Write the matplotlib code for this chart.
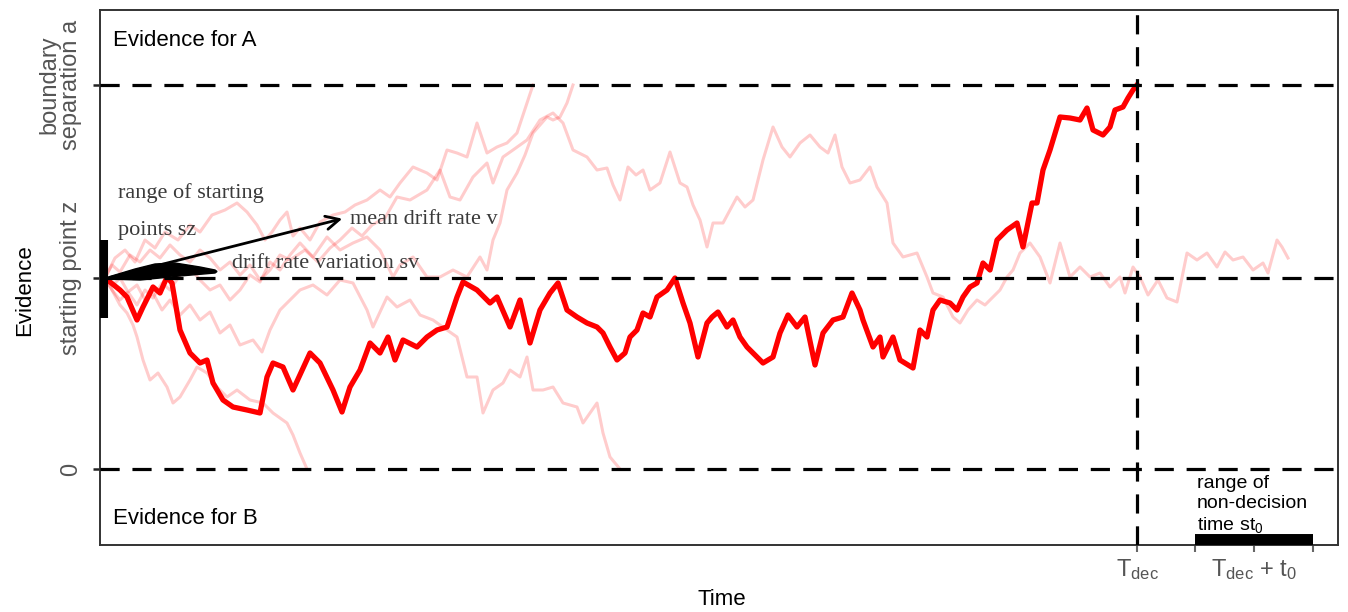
import numpy as np
import matplotlib
matplotlib.use('Agg')
from matplotlib import pyplot as plt

plt.rcParams['font.family'] = 'Liberation Sans'
plt.rcParams['mathtext.fontset'] = 'custom'
plt.rcParams['mathtext.rm'] = 'Liberation Sans'
plt.rcParams['mathtext.it'] = 'Liberation Sans:italic'
plt.rcParams['mathtext.default'] = 'regular'

# parametros del modelo de difusion (unidades arbitrarias)
a = 384          # separacion de barreras
z = 191          # punto de partida
T_dec = 1037     # tiempo de decision
t0_lo, t0_hi = 1095, 1213
t0_mid = 1154
sz_lo, sz_hi = 151, 229

# camino resaltado (llega a la barrera superior en T_dec)
main_t = [5, 20, 27, 37, 43, 53, 60, 67, 72, 80, 90, 100, 107, 113, 123, 133, 147, 160,
          167, 173, 183, 193, 210, 220, 233, 242, 250, 260, 270, 280, 288, 295, 303, 317,
          327, 337, 347, 357, 363, 377, 390, 397, 410, 420, 430, 440, 450, 458, 467, 477,
          487, 497, 503, 510, 517, 525, 530, 537, 543, 550, 557, 567, 575, 583, 590, 598,
          607, 612, 618, 627, 633, 640, 647, 657, 663, 673, 680, 688, 697, 705, 715, 723,
          733, 743, 752, 760, 763, 773, 780, 783, 793, 800, 813, 820, 827, 833, 840, 850,
          857, 863, 870, 877, 883, 890, 897, 907, 917, 923, 932, 937, 943, 950, 960, 970,
          980, 987, 993, 1003, 1010, 1015, 1023, 1028, 1033, 1037]
main_e = [191, 179, 172, 149, 162, 182, 176, 192, 186, 139, 116, 106, 109, 86, 69, 62, 59, 56,
          92, 106, 102, 79, 116, 106, 79, 57, 82, 99, 126, 116, 132, 109, 129, 122,
          132, 139, 142, 172, 187, 179, 166, 172, 142, 169, 126, 159, 176, 186, 159, 152,
          146, 142, 136, 122, 109, 116, 132, 139, 156, 152, 172, 179, 191, 166, 146, 112,
          146, 152, 157, 142, 149, 132, 122, 112, 106, 112, 136, 154, 142, 152, 104, 136,
          149, 152, 176, 159, 149, 122, 132, 112, 132, 109, 101, 139, 132, 159, 169, 166,
          159, 172, 182, 186, 206, 199, 229, 239, 246, 222, 266, 266, 299, 319, 352, 351,
          349, 361, 339, 334, 342, 359, 362, 371, 379, 384]

# caminos de fondo
p1_t = [5, 15, 25, 35, 45, 55, 65, 78, 90, 100, 112, 125, 137, 147, 157, 165, 172, 180,
        187, 193, 200, 210, 220, 233, 245, 255, 267, 280, 290, 300, 313, 327, 337, 347,
        357, 367, 377, 387, 397, 407, 417, 427, 433]
p1_e = [191, 211, 219, 207, 229, 221, 237, 229, 244, 237, 254, 259, 266, 257, 244, 229, 237, 249,
        257, 233, 241, 229, 247, 254, 257, 264, 269, 279, 272, 286, 302, 296, 289, 319,
        316, 312, 346, 316, 322, 326, 336, 366, 384]

p2_t = [5, 12, 20, 28, 37, 45, 53, 62, 70, 80, 90, 100, 110, 120, 130, 140, 150, 160,
        170, 180, 190, 200, 213, 227, 240, 253, 267, 280, 293, 300, 313, 327, 340, 353,
        367, 380, 387, 393, 400, 407, 417, 425, 433, 440, 447, 453, 460, 467, 473]
p2_e = [191, 179, 169, 177, 164, 179, 171, 186, 179, 194, 201, 189, 179, 184, 169, 179, 194, 187,
        207, 199, 214, 226, 212, 232, 219, 226, 232, 219, 192, 204, 212, 192, 192, 199,
        192, 212, 199, 229, 246, 279, 296, 314, 336, 344, 352, 349, 352, 366, 384]

p3_t = [5, 12, 20, 30, 40, 50, 60, 70, 80, 90, 100, 110, 120, 130, 140, 150, 160, 170,
        180, 190, 205, 218, 230, 240, 252, 262, 272, 285, 297, 310, 327, 340, 350, 360,
        373, 387, 393, 403, 413, 427, 440, 453, 463, 473, 487, 497, 507, 513, 520, 528,
        536, 543, 550, 560, 570, 580, 587, 593, 600, 607, 613, 623, 630, 637, 645, 653,
        663, 673, 682, 690, 700, 710, 720, 728, 735, 742, 750, 760, 770, 777, 787, 793,
        803, 817, 827, 833, 843, 853, 860, 868, 877, 885, 893, 900, 907, 913, 920, 930,
        940, 950, 960, 970, 980, 990, 1000, 1010, 1020, 1025, 1033, 1040, 1048, 1058, 1067, 1077,
        1087, 1097, 1107, 1117, 1125, 1133, 1143, 1153, 1163, 1168, 1177, 1182, 1188]
p3_e = [191, 204, 197, 214, 207, 219, 211, 224, 214, 207, 219, 211, 199, 207, 194, 204, 189, 199,
        214, 209, 219, 207, 221, 229, 241, 233, 244, 251, 272, 269, 279, 299, 272, 269,
        292, 306, 286, 312, 319, 329, 349, 356, 346, 319, 312, 299, 301, 284, 269, 302,
        294, 299, 279, 286, 317, 286, 282, 264, 249, 222, 246, 246, 259, 272, 262, 269,
        309, 342, 322, 312, 326, 334, 322, 316, 334, 302, 286, 289, 302, 282, 266, 226,
        212, 216, 192, 176, 172, 152, 146, 159, 169, 164, 172, 179, 192, 199, 216, 226,
        212, 186, 226, 192, 202, 192, 196, 182, 192, 176, 202, 192, 174, 189, 171, 167,
        216, 209, 216, 202, 217, 209, 212, 199, 206, 196, 229, 222, 211]

p4_t = [5, 12, 20, 27, 33, 37, 43, 50, 58, 67, 73, 80, 90, 97, 107, 117, 127, 137,
        150, 163, 173, 180, 187, 193, 200, 207]
p4_e = [191, 179, 164, 156, 144, 132, 109, 89, 96, 82, 66, 72, 89, 102, 96, 82, 72, 79,
        69, 66, 56, 51, 46, 34, 16, 0]

p5_t = [5, 13, 20, 28, 37, 45, 53, 62, 70, 80, 90, 100, 110, 120, 130, 140, 153, 162,
        170, 180, 190, 200, 213, 227, 240, 253, 267, 273, 287, 297, 310, 320, 333, 347,
        357, 367, 377, 383, 393, 403, 410, 420, 427, 433, 443, 453, 463, 477, 483, 497,
        503, 510, 520]
p5_e = [191, 184, 191, 177, 184, 169, 176, 159, 169, 154, 164, 149, 157, 136, 144, 124, 129, 117,
        139, 159, 169, 179, 184, 174, 189, 186, 159, 142, 172, 162, 169, 154, 149, 139,
        132, 92, 92, 56, 79, 86, 99, 92, 112, 79, 79, 82, 66, 62, 46, 66,
        36, 12, 0]

# cuna de variabilidad del drift y flecha del drift medio
wedge_t = [5, 35, 55, 75, 100, 115, 117, 115, 80, 40, 5]
wedge_e = [191, 200, 205, 206, 202, 199, 197.5, 196, 193, 189, 190]
arrow_end = (245, 251)

fig = plt.figure(figsize=(13.48, 6.12), dpi=100)
ax = fig.add_axes([100 / 1348, 1 - 545 / 612, 1238 / 1348, 535 / 612])

light = dict(color='red', alpha=0.2, lw=2.2, zorder=1)
for tt, ee in [(p1_t, p1_e), (p2_t, p2_e), (p3_t, p3_e), (p4_t, p4_e), (p5_t, p5_e)]:
    ax.plot(tt, ee, **light)
ax.plot(main_t, main_e, color='red', lw=3.8, zorder=3, solid_joinstyle='round')

dash = dict(color='black', lw=2.3, linestyle=(0, (6, 4)), zorder=4)
for yy in [0, z, a]:
    ax.axhline(yy, **dash)
ax.axvline(T_dec, **dash)

# rango de puntos de partida
ax.plot([4, 4], [sz_lo, sz_hi], color='black', lw=5.8, solid_capstyle='butt', zorder=5)
# rango del tiempo no decisional
ax.plot([t0_lo, t0_hi], [-70.5, -70.5], color='black', lw=8.6, solid_capstyle='butt', zorder=5)

ax.fill(wedge_t, wedge_e, color='black', zorder=5)
ax.annotate('', xy=arrow_end, xytext=(8, 191),
            arrowprops=dict(arrowstyle='->', lw=2, color='black', mutation_scale=24), zorder=6)

serif = dict(family='Liberation Serif', fontsize=16, color='#3a3a3a', va='center', zorder=6)
ax.text(18, 276, 'range of starting', **serif)
ax.text(18, 239, 'points sz', **serif)
ax.text(250, 249, 'mean drift rate v', **serif)
ax.text(132, 206, 'drift rate variation sv', **serif)

ax.text(13, 429, 'Evidence for A', fontsize=16, va='center')
ax.text(13, -50, 'Evidence for B', fontsize=16, va='center')
ax.text(1097, -6, 'range of\nnon-decision\ntime st$_0$', fontsize=14, va='top',
        linespacing=1.2)

ax.set_xlim(0, 1238)
ax.set_ylim(-76, 459)

ax.set_yticks([0, z, a])
ax.set_yticklabels(['0', 'starting point z', 'boundary\nseparation a'], rotation=90,
                   va='center', ha='right', multialignment='center', linespacing=1.0)
ax.tick_params(axis='y', length=5, width=1.8, color='#222222', labelsize=17,
               labelcolor='#555555', pad=8)

ax.set_xticks([T_dec, t0_lo, t0_mid, t0_hi])
ax.set_xticklabels(['T$_{dec}$', '', 'T$_{dec}$ + t$_0$', ''])
ax.tick_params(axis='x', length=5, width=1.5, color='#666666', labelsize=17,
               labelcolor='#555555', pad=4)

for sp in ax.spines.values():
    sp.set_color('#333333')
    sp.set_linewidth(1.4)

ax.set_xlabel('Time', fontsize=16)
ax.xaxis.set_label_coords(0.502, -0.083)
ax.set_ylabel('Evidence', fontsize=16)
ax.yaxis.set_label_coords(-0.0525, 0.477)

plt.savefig('out.png', dpi=100)
